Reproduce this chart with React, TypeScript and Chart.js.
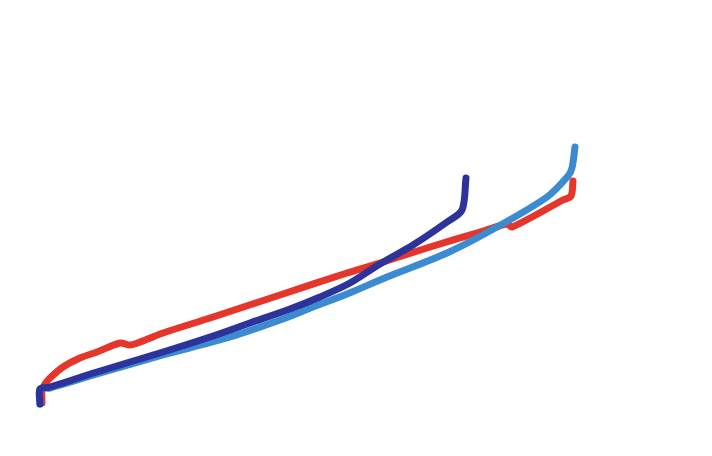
import { useEffect, useRef } from "react"
import { Chart, registerables } from "chart.js"

Chart.register(...registerables)

// traced values, x to the right, y downward (reversed scale)
const redX = [42, 42, 45, 50, 63, 80, 97, 120, 130, 140, 163, 210, 280, 347, 380, 430, 480, 507, 512, 563, 571, 573]
const redY = [403, 390, 384, 378, 367, 358, 352, 343, 345, 342, 333, 318, 295, 273, 263, 247, 232, 224, 227, 200, 196, 181]

const darkX = [40, 40, 50, 97, 163, 210, 250, 290, 320, 350, 380, 413, 447, 462, 466]
const darkY = [404, 389, 387, 372, 352, 337, 323, 309, 297, 283, 264, 245, 222, 210, 178]

const lightX = [40, 40, 50, 97, 163, 230, 280, 313, 347, 387, 447, 497, 547, 568, 572, 575]
const lightY = [404, 389, 388, 374, 355, 337, 320, 307, 294, 277, 253, 227, 197, 176, 168, 147]

const toPoints = (xs: number[], ys: number[]) => xs.map((x, i) => ({ x, y: ys[i] }))

export default function App() {
  const canvasRef = useRef<HTMLCanvasElement>(null)

  useEffect(() => {
    if (!canvasRef.current) return
    const line = (data: { x: number; y: number }[], color: string) => ({
      data,
      borderColor: color,
      borderWidth: 7,
      borderCapStyle: "round" as const,
      borderJoinStyle: "round" as const,
      pointRadius: 0,
      tension: 0.3,
      fill: false,
    })
    const chart = new Chart(canvasRef.current, {
      type: "line",
      data: {
        datasets: [
          line(toPoints(darkX, darkY), "#2c339b"),
          line(toPoints(lightX, lightY), "#3a8bd2"),
          line(toPoints(redX, redY), "#e6352a"),
        ],
      },
      options: {
        animation: false,
        responsive: true,
        maintainAspectRatio: false,
        layout: { padding: 0 },
        plugins: { legend: { display: false }, tooltip: { enabled: false } },
        scales: {
          x: { type: "linear", min: 0, max: 712, display: false },
          y: { type: "linear", min: 0, max: 456, reverse: true, display: false },
        },
      },
    })
    return () => chart.destroy()
  }, [])

  return (
    <div style={{ position: "fixed", left: 0, top: 0, width: 712, height: 456, background: "#fff" }}>
      <canvas ref={canvasRef} />
    </div>
  )
}
